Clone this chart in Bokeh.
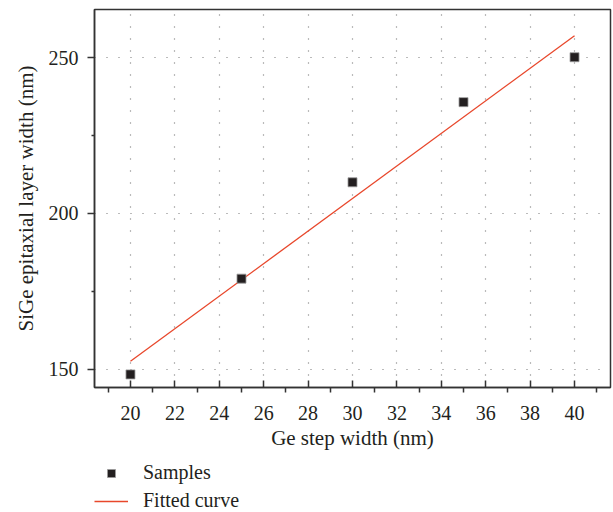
from bokeh.plotting import figure
from bokeh.layouts import column
from bokeh.models import Range1d, FixedTicker, Legend, LegendItem
from bokeh.embed import file_html
from bokeh.resources import INLINE

# Data
step_width = [20, 25, 30, 35, 40]           # Ge step width (nm)
layer_width = [148.4, 179.1, 210.0, 235.7, 250.1]  # SiGe epitaxial layer width (nm)
fit_x = [20, 40]
fit_y = [152.6, 257.0]

x_major = [20, 22, 24, 26, 28, 30, 32, 34, 36, 38, 40]
x_minor = [19, 21, 23, 25, 27, 29, 31, 33, 35, 37, 39, 41]
y_major = [150, 200, 250]
y_minor = [175, 225]

FONT = "Liberation Serif"
TXT = "#231f20"
LINE_COLOR = "#e8472b"
MARK_FILL = "#231f20"
MARK_EDGE = "#9a9a9a"

p = figure(width=613, height=456, output_backend="svg", toolbar_location=None,
           x_range=Range1d(18.38, 41.62), y_range=Range1d(144.2, 265.4),
           min_border_left=94, min_border_right=3, min_border_top=9,
           min_border_bottom=69)

p.background_fill_color = "white"
p.border_fill_color = "white"
p.outline_line_color = "#333333"
p.outline_line_width = 1.5

# Axes
xa = p.xaxis[0]
xa.ticker = FixedTicker(ticks=x_major, minor_ticks=x_minor)
xa.axis_label = "Ge step width (nm)"
xa.major_tick_in = 7
xa.major_tick_out = 0
xa.minor_tick_in = 0
xa.minor_tick_out = 5
xa.major_label_standoff = 13
xa.axis_label_standoff = 3

ya = p.yaxis[0]
ya.ticker = FixedTicker(ticks=y_major, minor_ticks=y_minor)
ya.axis_label = "SiGe epitaxial layer width (nm)"
ya.major_tick_in = 0
ya.major_tick_out = 7
ya.minor_tick_in = 0
ya.minor_tick_out = 3
ya.major_label_standoff = 9
ya.axis_label_standoff = 8

for ax in (xa, ya):
    ax.axis_line_color = "#333333"
    ax.axis_line_width = 1.5
    ax.major_tick_line_color = "#333333"
    ax.major_tick_line_width = 1.5
    ax.minor_tick_line_color = "#333333"
    ax.minor_tick_line_width = 1.5
    ax.major_label_text_font = FONT
    ax.major_label_text_font_size = "20px"
    ax.major_label_text_color = TXT
    ax.axis_label_text_font = FONT
    ax.axis_label_text_font_size = "21px"
    ax.axis_label_text_font_style = "normal"
    ax.axis_label_text_color = TXT

# Grid
p.xgrid.ticker = FixedTicker(ticks=x_major)
p.ygrid.ticker = FixedTicker(ticks=y_major)
for g in (p.xgrid, p.ygrid):
    g.grid_line_color = "#777777"
    g.grid_line_width = 1.2
    g.grid_line_dash = "1 11"

# Glyphs
p.line(fit_x, fit_y, line_color=LINE_COLOR, line_width=1.3)
p.scatter(step_width, layer_width, marker="square", size=9,
          fill_color=MARK_FILL, line_color=MARK_EDGE, line_width=0.8)

# Legend strip below the chart (its renderers hold the same data, out of view)
lg = figure(width=613, height=56, output_backend="svg", toolbar_location=None,
            x_range=Range1d(0, 1), y_range=Range1d(0, 1),
            x_axis_location=None, y_axis_location=None,
            min_border_left=0, min_border_right=0, min_border_top=0,
            min_border_bottom=0)
lg.grid.visible = False
lg.outline_line_color = None
lg.background_fill_color = "white"
lg.border_fill_color = "white"
leg_pts = lg.scatter(step_width, layer_width, marker="square", size=9,
                     fill_color=MARK_FILL, line_color=MARK_EDGE, line_width=0.8)
leg_fit = lg.line(fit_x, fit_y, line_color=LINE_COLOR, line_width=1.3)

legend = Legend(items=[LegendItem(label="Samples", renderers=[leg_pts]),
                       LegendItem(label="Fitted curve", renderers=[leg_fit])],
                location=(0, 0), orientation="vertical",
                margin=0, padding=0, spacing=5,
                glyph_width=34, glyph_height=20, label_height=20,
                label_standoff=15,
                label_text_font=FONT, label_text_font_size="20px",
                label_text_color=TXT,
                border_line_color=None, background_fill_alpha=0)
lg.add_layout(legend)

layout = column(p, lg, spacing=0)
open("out.html", "w").write(file_html(layout, INLINE))
